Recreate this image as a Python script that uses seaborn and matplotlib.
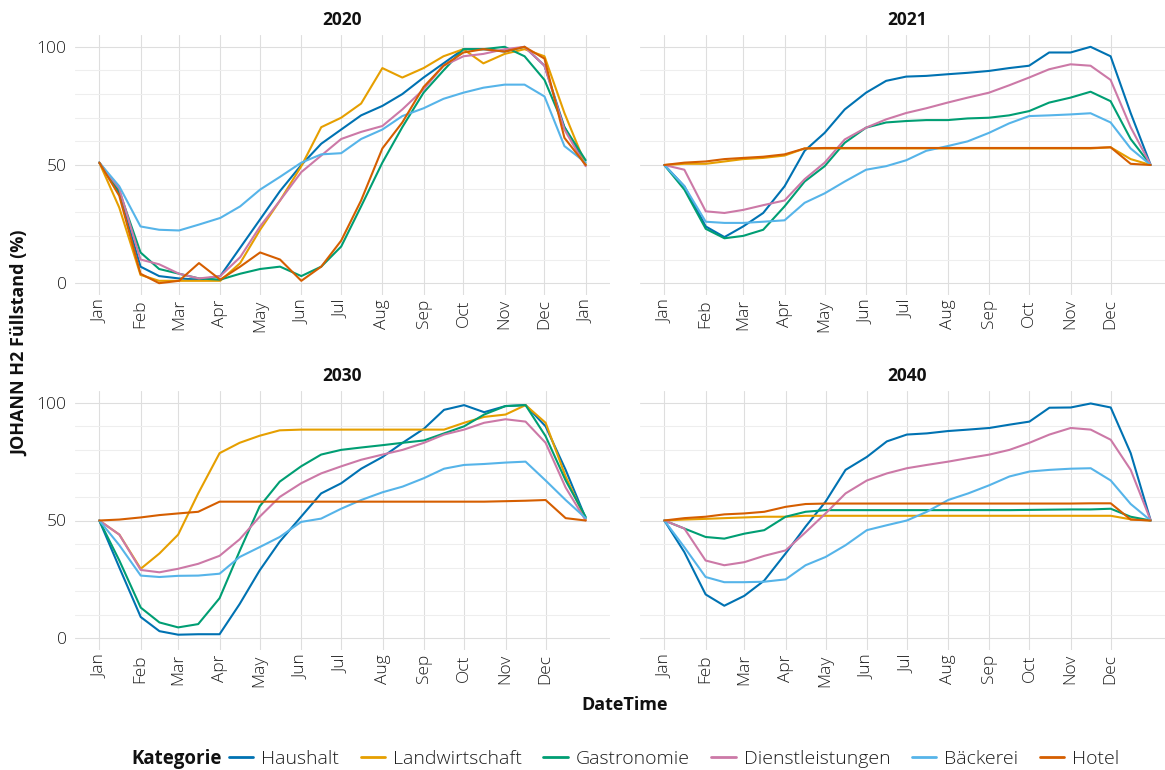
import matplotlib
matplotlib.use("Agg")
import matplotlib.pyplot as plt
import matplotlib.dates as mdates
from matplotlib.lines import Line2D
from matplotlib.ticker import FixedLocator, MultipleLocator
import seaborn as sns
import pandas as pd

# ---------------- data ----------------
categories = ["Haushalt", "Landwirtschaft", "Gastronomie", "Dienstleistungen", "Bäckerei", "Hotel"]
palette = ["#0072B2", "#E69F00", "#009E73", "#CC79A7", "#56B4E9", "#D55E00"]
years = [2020, 2021, 2030, 2040]

sample_days = ["01-01", "01-16", "02-01", "02-15", "03-01", "03-16", "04-01", "04-16",
               "05-01", "05-16", "06-01", "06-16", "07-01", "07-16", "08-01", "08-16",
               "09-01", "09-16", "10-01", "10-16", "11-01", "11-16", "12-01", "12-16"]
end_dates = {2020: "2021-01-01", 2021: "2021-12-31", 2030: "2030-12-31", 2040: "2040-12-31"}

# 2020
haushalt_2020 = [51, 38, 7, 3, 2, 1.5, 3, 15, 27, 39, 50, 59, 65, 71, 75, 80, 87, 93, 99, 99, 98, 100, 92, 66, 50]
landwirtschaft_2020 = [51, 32, 3.5, 1, 1, 1, 1, 8.5, 22.6, 35, 49.5, 66, 70, 76, 91, 87, 91, 96, 99, 93, 97, 99, 96, 72, 50]
gastronomie_2020 = [51, 39, 13, 6, 4, 2, 1.5, 4, 6, 7, 3, 7, 15.5, 32.5, 51, 66, 80.6, 90, 99, 99, 100, 96, 86, 66, 52]
dienstleistungen_2020 = [51, 40, 10, 8, 4, 2, 3, 11, 24, 35, 47, 54, 61, 64, 66.5, 73.5, 82, 92, 96, 97, 99, 100, 92, 65, 49.5]
baeckerei_2020 = [51, 41, 24, 22.6, 22.3, 24.8, 27.6, 32.5, 39.6, 45, 51, 54.5, 55, 61, 65, 70.7, 74, 78, 80.6, 82.7, 84, 84, 79, 58, 51]
hotel_2020 = [51, 37, 4, 0, 1, 8.5, 1.5, 7, 13, 10, 1, 7, 18, 35, 57, 68, 83, 92, 97.6, 99, 98, 100, 95, 61.5, 50]

# 2021
haushalt_2021 = [50, 41, 24, 19.5, 24, 29.7, 41, 56, 63.6, 73.5, 80.6, 85.6, 87.4, 87.7, 88.4, 89, 89.8, 91, 92, 97.6, 97.6, 100, 96, 72, 50]
landwirtschaft_2021 = [50, 50.5, 50.5, 51.5, 52.5, 53, 54, 57, 57, 57, 57, 57, 57, 57, 57, 57, 57, 57, 57, 57, 57, 57, 57.5, 52.5, 50]
gastronomie_2021 = [50, 39.6, 23, 19, 20, 22.6, 32.5, 43, 49.5, 59.4, 65.8, 68, 68.6, 69, 69, 69.7, 70, 71, 72.8, 76.4, 78.5, 81, 77, 61, 50]
dienstleistungen_2021 = [50, 48, 30.4, 29.7, 31, 33, 35, 44, 51, 60.8, 65.8, 69.3, 72, 74, 76.4, 78.5, 80.6, 83.7, 87, 90.5, 92.6, 92, 86, 66, 50]
baeckerei_2021 = [50, 41, 26, 25.5, 25.5, 26, 26.6, 34, 38, 43, 48, 49.5, 52, 56, 58, 60, 63.6, 67.6, 70.7, 71, 71.4, 71.9, 68, 57, 50]
hotel_2021 = [50, 51, 51.5, 52.5, 53, 53.5, 54.5, 57, 57.2, 57.2, 57.2, 57.2, 57.2, 57.2, 57.2, 57.2, 57.2, 57.2, 57.2, 57.2, 57.2, 57.2, 57.5, 50.5, 50]

# 2030
haushalt_2030 = [50, 30, 9, 3, 1.5, 1.7, 1.7, 14.5, 28.8, 41, 51.6, 61.5, 65.8, 72, 77, 83, 89, 97, 99, 96, 98.6, 99, 90, 71.5, 51]
landwirtschaft_2030 = [50, 44, 29.5, 36, 44, 61.5, 78.6, 83, 86, 88.3, 88.6, 88.6, 88.6, 88.6, 88.6, 88.6, 88.6, 88.6, 91.5, 94, 95, 99, 91.5, 68.7, 50.4]
gastronomie_2030 = [50, 33, 13, 6.7, 4.6, 6, 17, 37, 56, 66.5, 73, 78, 80, 81, 82, 83, 84, 87, 90, 95, 98.6, 99, 85.8, 67, 51.5]
dienstleistungen_2030 = [50, 44, 29, 28, 29.5, 31.6, 35, 42, 51.6, 60, 65.8, 70, 73, 75.8, 78, 80, 83, 86.5, 88.6, 91.5, 93, 92, 83, 64, 50]
baeckerei_2030 = [50, 39.5, 26.6, 26, 26.5, 26.6, 27.4, 34.5, 38.7, 43, 49.4, 50.8, 55, 58.7, 62, 64.4, 68, 72, 73.6, 74, 74.6, 75, 67, 58.7, 51]
hotel_2030 = [50, 50.4, 51.3, 52.3, 53, 53.7, 58, 58, 58, 58, 58, 58, 58, 58, 58, 58, 58, 58, 58, 58, 58.2, 58.4, 58.7, 51, 50]

# 2040
haushalt_2040 = [50, 36.6, 18.6, 13.8, 18, 24.5, 36, 47.4, 58, 71.5, 77, 83.6, 86.5, 87, 88, 88.6, 89.3, 90.7, 92, 97.9, 98, 99.7, 98, 78.6, 50]
landwirtschaft_2040 = [50, 50.4, 50.7, 51, 51.3, 51.6, 51.6, 52, 52, 52, 52, 52, 52, 52, 52, 52, 52, 52, 52, 52, 52, 52, 52, 50.5, 50]
gastronomie_2040 = [50, 46.6, 43, 42.3, 44.4, 45.9, 51.6, 53.7, 54.4, 54.4, 54.4, 54.4, 54.4, 54.4, 54.4, 54.4, 54.4, 54.4, 54.5, 54.6, 54.7, 54.7, 55, 51.6, 50]
dienstleistungen_2040 = [50, 46.6, 33, 31, 32.3, 35, 37.3, 45, 53, 61.5, 67, 70, 72.2, 73.6, 75, 76.5, 78, 80, 83, 86.5, 89.3, 88.6, 84.3, 71.5, 50]
baeckerei_2040 = [50, 38.7, 26, 23.8, 23.8, 24, 25, 31, 34.5, 39.5, 45.9, 48, 50, 53.7, 58.7, 61.5, 65, 68.7, 70.8, 71.5, 72, 72.2, 67, 57, 50]
hotel_2040 = [50, 51, 51.6, 52.6, 53, 53.7, 55.8, 57, 57.2, 57.2, 57.2, 57.2, 57.2, 57.2, 57.2, 57.2, 57.2, 57.2, 57.2, 57.2, 57.2, 57.3, 57.3, 50.4, 50]

series = {
    2020: [haushalt_2020, landwirtschaft_2020, gastronomie_2020, dienstleistungen_2020, baeckerei_2020, hotel_2020],
    2021: [haushalt_2021, landwirtschaft_2021, gastronomie_2021, dienstleistungen_2021, baeckerei_2021, hotel_2021],
    2030: [haushalt_2030, landwirtschaft_2030, gastronomie_2030, dienstleistungen_2030, baeckerei_2030, hotel_2030],
    2040: [haushalt_2040, landwirtschaft_2040, gastronomie_2040, dienstleistungen_2040, baeckerei_2040, hotel_2040],
}

rows = []
for yr in years:
    dates = [pd.Timestamp(f"{yr}-{d}") for d in sample_days] + [pd.Timestamp(end_dates[yr])]
    for cat, vals in zip(categories, series[yr]):
        for d, v in zip(dates, vals):
            rows.append({"Jahr": yr, "DateTime": d, "Kategorie": cat, "value": v})
df = pd.DataFrame(rows)

# ---------------- style ----------------
sns.set_theme(style="white")
plt.rcParams["font.family"] = ["Open Sans", "DejaVu Sans"]
TXT = "#1E1E1E"

W, H = 1165, 770
fig = plt.figure(figsize=(W / 100, H / 100), dpi=100)

def px_axes(x0, ytop, w, h):
    return fig.add_axes([x0 / W, 1 - (ytop + h) / H, w / W, h / H])

panel_w = 535
positions = {
    2020: (75, 35, panel_w, 260),
    2021: (640, 35, panel_w, 260),
    2030: (75, 391, panel_w, 259),
    2040: (640, 391, panel_w, 259),
}

for yr in years:
    ax = px_axes(*positions[yr])
    sub = df[df["Jahr"] == yr]
    sns.lineplot(data=sub, x="DateTime", y="value", hue="Kategorie", hue_order=categories,
                 palette=palette, estimator=None, linewidth=1.5, legend=False, ax=ax)
    start = pd.Timestamp(f"{yr}-01-01")
    end = pd.Timestamp(end_dates[yr])
    span = end - start
    ax.set_xlim(start - 0.05 * span, end + 0.05 * span)
    ax.set_ylim(-5, 105)
    ticks = pd.date_range(start, end, freq="MS")
    ax.xaxis.set_major_locator(FixedLocator(mdates.date2num(ticks)))
    ax.xaxis.set_major_formatter(mdates.DateFormatter("%b"))
    ax.yaxis.set_major_locator(FixedLocator([0, 50, 100]))
    ax.yaxis.set_minor_locator(MultipleLocator(10))
    ax.grid(True, which="major", axis="both", color="#DEDEDE", linewidth=0.8)
    ax.grid(True, which="minor", axis="y", color="#EEEEEE", linewidth=0.8)
    ax.set_axisbelow(True)
    for s in ax.spines.values():
        s.set_visible(False)
    ax.tick_params(axis="both", which="both", length=0, colors=TXT, labelsize=12.5)
    ax.tick_params(axis="x", pad=3)
    ax.tick_params(axis="y", pad=6)
    for lab in ax.get_xticklabels() + ax.get_yticklabels():
        lab.set_fontweight("light")
    for lab in ax.get_xticklabels():
        lab.set_rotation(90)
        lab.set_ha("center")
        lab.set_va("top")
    if yr in (2021, 2040):
        ax.set_yticklabels([])
    ax.set_xlabel("")
    ax.set_ylabel("")
    ax.set_title(str(yr), fontsize=12.5, fontweight="bold", color="#111111", pad=7)

fig.text(20 / W, 1 - 343 / H, "JOHANN H2 Füllstand (%)", rotation=90, ha="center", va="center",
         fontsize=13, fontweight="bold", color="#111111")
fig.text(625 / W, 1 - 705 / H, "DateTime", ha="center", va="center",
         fontsize=13, fontweight="bold", color="#111111")

fig.text(131 / W, 1 - 759 / H, "Kategorie", ha="left", va="center",
         fontsize=13.5, fontweight="bold", color="#111111")
handles = [Line2D([0], [0], color=c, linewidth=2) for c in palette]
leg = fig.legend(handles, categories, loc="center left", bbox_to_anchor=(229 / W, 1 - 759 / H),
                 ncol=6, frameon=False, handlelength=1.25, handletextpad=0.42,
                 columnspacing=1.1, borderaxespad=0, borderpad=0,
                 prop={"size": 14, "weight": "light"}, labelcolor=TXT)

fig.savefig("out.png", dpi=100)
